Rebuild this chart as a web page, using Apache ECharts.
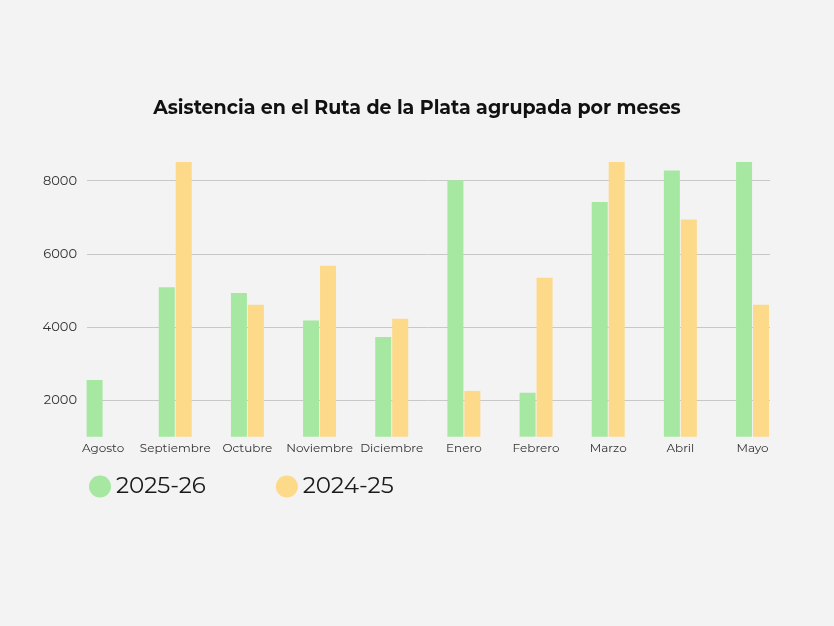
<!DOCTYPE html>
<html>
<head>
<meta charset="utf-8">
<script src="https://cdn.jsdelivr.net/npm/echarts@6/dist/echarts.min.js"></script>
<style>
  html,body{margin:0;padding:0;background:#f3f3f3;}
  #chart{width:834px;height:626px;}
</style>
</head>
<body>
<div id="chart"></div>
<script>
const months = ["Agosto","Septiembre","Octubre","Noviembre","Diciembre","Enero","Febrero","Marzo","Abril","Mayo"];
const season2526 = [2550, 5080, 4920, 4170, 3720, 8000, 2200, 7410, 8270, 8500];
const season2425 = [null, 8500, 4600, 5670, 4220, 2250, 5340, 8500, 6930, 4600];
const seriesNames = ["2025-26", "2024-25"];
const colors = ["#a6e8a2", "#fdd98a"];

const font = "Montserrat, Inter, sans-serif";
const chart = echarts.init(document.getElementById("chart"));
chart.setOption({
  backgroundColor:"#f3f3f3",
  color: colors,
  title:{
    text:"Asistencia en el Ruta de la Plata agrupada por meses",
    left:"center", top:94,
    textStyle:{fontFamily:font, fontSize:19, fontWeight:"bold", color:"#111"}
  },
  legend:{
    left:84, top:470, icon:"circle", itemWidth:22, itemHeight:22, itemGap:70,
    textStyle:{fontFamily:font, fontSize:23, color:"#1a1a1a", padding:[0,0,6,0]},
    data: seriesNames
  },
  grid:[
    {left:67, right:45.4, top:162, bottom:189.3},
    {left:87, right:64, top:180.7, bottom:152.75}
  ],
  xAxis:[
    {type:"category", data:months, gridIndex:0,
      axisLine:{show:false}, axisTick:{show:false},
      axisLabel:{fontFamily:font, fontSize:12, color:"#333", margin:6, interval:0}},
    {type:"value", gridIndex:1, min:0, max:1, show:false}
  ],
  yAxis:[
    {type:"value", gridIndex:0, min:1000, max:8500, show:false},
    {type:"value", gridIndex:1, min:0, max:8000, interval:2000,
      axisLine:{show:false}, axisTick:{show:false},
      axisLabel:{fontFamily:font, fontSize:13, color:"#333", margin:10, showMinLabel:false,
        formatter: v => String(v)},
      splitLine:{showMinLine:false, lineStyle:{color:"#c8c8c8", width:1}}}
  ],
  series:[
    {name:seriesNames[0], type:"bar", xAxisIndex:0, yAxisIndex:0, barWidth:16, barGap:"6%", data:season2526},
    {name:seriesNames[1], type:"bar", xAxisIndex:0, yAxisIndex:0, barWidth:16, barGap:"6%", data:season2425}
  ]
});
</script>
</body>
</html>
